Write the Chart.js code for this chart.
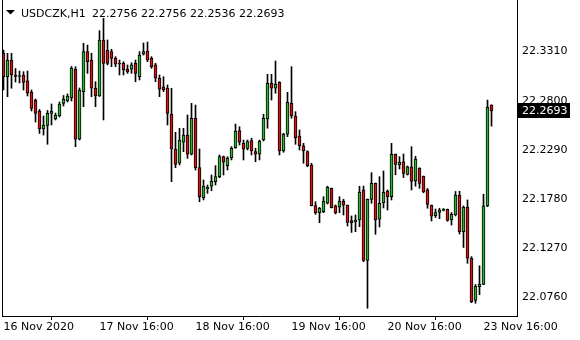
<!DOCTYPE html>
<html><head><meta charset="utf-8">
<script src="https://cdn.jsdelivr.net/npm/chart.js@4.4.1/dist/chart.umd.min.js"></script>
<style>html,body{margin:0;padding:0;background:#fff;}#c{display:block;}</style>
</head><body>
<canvas id="c" width="580" height="340"></canvas>
<script>
const symbol = 'USDCZK,H1';
const open = [22.3292,22.3049,22.3222,22.3067,22.3051,22.3067,22.3005,22.2890,22.2807,22.2693,
22.2506,22.2543,22.2669,22.2610,22.2641,22.2773,22.2797,22.2828,22.3126,22.2400,
22.2894,22.3309,22.3222,22.2929,22.2849,22.3430,22.3326,22.3309,22.3240,22.3191,
22.3188,22.3126,22.3126,22.3188,22.3049,22.3282,22.3316,22.3240,22.3171,22.3033,
22.2945,22.2929,22.2662,22.2299,22.2151,22.2369,22.2444,22.2244,22.2618,22.2105,
22.1794,22.1884,22.1913,22.1960,22.2012,22.2219,22.2126,22.2209,22.2312,22.2489,
22.2358,22.2306,22.2385,22.2271,22.2244,22.2392,22.2610,22.2981,22.2929,22.2991,
22.2278,22.2452,22.2773,22.2641,22.2434,22.2333,22.2271,22.2133,22.1711,22.1638,
22.1648,22.1736,22.1891,22.1708,22.1694,22.1759,22.1718,22.1555,22.1545,22.1562,
22.1874,22.1144,22.1775,22.1943,22.1570,22.1742,22.1863,22.1804,22.2244,22.2133,
22.2167,22.2036,22.2115,22.1967,22.2099,22.2016,22.1874,22.1718,22.1607,22.1640,
22.1661,22.1673,22.1562,22.1614,22.1822,22.1441,22.1697,22.1165,22.0727,22.0870,
22.0893,22.1708,22.2756];
const high = [22.3326,22.3292,22.3292,22.3134,22.3108,22.3101,22.3108,22.2911,22.2818,22.2709,
22.2641,22.2699,22.2766,22.2672,22.2787,22.2854,22.2870,22.3155,22.3153,22.2932,
22.3396,22.3378,22.3292,22.2997,22.3527,22.3655,22.3430,22.3334,22.3257,22.3222,
22.3205,22.3171,22.3194,22.3222,22.3309,22.3399,22.3409,22.3257,22.3188,22.3067,
22.3049,22.2963,22.2929,22.2472,22.2514,22.2514,22.2652,22.2773,22.2755,22.2299,
22.1977,22.1925,22.2029,22.2126,22.2237,22.2226,22.2219,22.2323,22.2558,22.2530,
22.2392,22.2392,22.2410,22.2306,22.2392,22.2659,22.3074,22.3074,22.3212,22.2997,
22.2462,22.2887,22.3153,22.2686,22.2496,22.2358,22.2281,22.2151,22.1752,22.1694,
22.1804,22.1913,22.1894,22.1718,22.1804,22.1777,22.1718,22.1604,22.1614,22.1912,
22.1915,22.1780,22.2053,22.1946,22.2012,22.2071,22.1874,22.2358,22.2247,22.2219,
22.2247,22.2123,22.2323,22.2223,22.2105,22.2019,22.1889,22.1718,22.1676,22.1684,
22.1682,22.1676,22.1640,22.1858,22.1860,22.1708,22.1770,22.1182,22.0893,22.1087,
22.1830,22.2807,22.2756];
const low = [22.2911,22.2842,22.2929,22.2994,22.2984,22.2911,22.2849,22.2693,22.2579,22.2460,
22.2444,22.2348,22.2548,22.2600,22.2631,22.2745,22.2787,22.2797,22.2323,22.2392,
22.2738,22.3084,22.2842,22.2738,22.2844,22.2600,22.3171,22.3153,22.3153,22.3067,
22.3067,22.3084,22.3084,22.2997,22.3015,22.3274,22.3205,22.3136,22.2997,22.2842,
22.2894,22.2548,22.1960,22.2105,22.2133,22.2271,22.2202,22.2237,22.2081,22.1752,
22.1770,22.1839,22.1866,22.1925,22.2001,22.2029,22.2081,22.2185,22.2306,22.2340,
22.2185,22.2289,22.2237,22.2167,22.2185,22.2382,22.2514,22.2807,22.2877,22.2237,
22.2265,22.2427,22.2618,22.2348,22.2289,22.2151,22.2115,22.1708,22.1621,22.1534,
22.1638,22.1728,22.1687,22.1625,22.1638,22.1614,22.1500,22.1433,22.1441,22.1493,
22.1130,22.0646,22.1736,22.1414,22.1490,22.1687,22.1666,22.1770,22.2032,22.2091,
22.2003,22.2029,22.1874,22.1913,22.1891,22.1845,22.1684,22.1552,22.1588,22.1576,
22.1656,22.1549,22.1510,22.1604,22.1417,22.1277,22.1113,22.0704,22.0698,22.0787,
22.0891,22.1700,22.2536];
const close = [22.3049,22.3222,22.3067,22.3051,22.3062,22.2989,22.2877,22.2721,22.2669,22.2506,
22.2548,22.2669,22.2693,22.2652,22.2766,22.2818,22.2849,22.3139,22.2400,22.2911,
22.3309,22.3205,22.2929,22.2849,22.3430,22.3188,22.3188,22.3240,22.3178,22.3181,
22.3119,22.3098,22.3171,22.3084,22.3274,22.3309,22.3222,22.3153,22.3033,22.2921,
22.2911,22.2669,22.2299,22.2140,22.2392,22.2444,22.2244,22.2618,22.2105,22.1804,
22.1913,22.1902,22.1967,22.2012,22.2219,22.2161,22.2202,22.2306,22.2486,22.2369,
22.2296,22.2375,22.2278,22.2244,22.2382,22.2618,22.2981,22.2929,22.2970,22.2278,
22.2452,22.2783,22.2645,22.2416,22.2333,22.2278,22.2126,22.1711,22.1638,22.1684,
22.1759,22.1902,22.1690,22.1638,22.1759,22.1715,22.1538,22.1534,22.1562,22.1853,
22.1144,22.1777,22.1943,22.1562,22.1736,22.1850,22.1801,22.2244,22.2140,22.2161,
22.2045,22.2115,22.1962,22.2195,22.1943,22.1853,22.1723,22.1601,22.1638,22.1666,
22.1673,22.1557,22.1621,22.1822,22.1441,22.1697,22.1165,22.0715,22.0874,22.0896,
22.1708,22.2732,22.2693];
const xTickIndex = [0, 24, 48, 72, 96, 120];
const xTickLabels = ['16 Nov 2020', '17 Nov 16:00', '18 Nov 16:00', '19 Nov 16:00', '20 Nov 16:00', '23 Nov 16:00'];
const yTicks = [22.0760, 22.1270, 22.1780, 22.2290, 22.2800, 22.3310];

const BULL = '#2fb32f', BEAR = '#d41414';
const FONT = 'DejaVu Sans';
const idx = open.map((_, i) => i);
const last = open.length - 1;

const decor = {
  id: 'decor',
  afterDraw(chart) {
    const {ctx, chartArea: a, scales: {y}} = chart;
    ctx.save();
    ctx.strokeStyle = '#000'; ctx.lineWidth = 1;
    ctx.beginPath(); ctx.moveTo(2.5, 0); ctx.lineTo(2.5, a.bottom + 1); ctx.stroke();
    ctx.fillStyle = '#000';
    ctx.beginPath(); ctx.moveTo(6, 10); ctx.lineTo(15, 10); ctx.lineTo(10.5, 14.5); ctx.closePath(); ctx.fill();
    ctx.font = '11px "' + FONT + '"'; ctx.textBaseline = 'alphabetic'; ctx.textAlign = 'left';
    ctx.fillText(symbol, 21, 17);
    ctx.fillText([open[last], high[last], low[last], close[last]].map(v => v.toFixed(4)).join(' '), 92, 17);
    const py = Math.round(y.getPixelForValue(close[last]));
    ctx.fillStyle = '#000'; ctx.fillRect(518, py - 8, 52, 15);
    ctx.fillStyle = '#fff'; ctx.textBaseline = 'middle';
    ctx.fillText(close[last].toFixed(4), 522, py);
    ctx.restore();
  }
};

function noPad(s) { s.paddingTop = 0; s.paddingBottom = 0; s.paddingLeft = 0; s.paddingRight = 0; }

new Chart(document.getElementById('c'), {
  type: 'bar',
  data: {
    datasets: [
      { label: 'wick', order: 2, data: idx.map(i => ({x: i, y: [low[i], high[i]]})),
        backgroundColor: '#000', borderWidth: 0, barThickness: 1, grouped: false },
      { label: 'body', order: 1, data: idx.map(i => ({x: i, y: [open[i], close[i]]})),
        backgroundColor: idx.map(i => close[i] >= open[i] ? BULL : BEAR),
        borderColor: '#000', borderWidth: 1, borderSkipped: false, barThickness: 3, minBarLength: 1, grouped: false }
    ]
  },
  options: {
    responsive: false, animation: false, devicePixelRatio: 1,
    layout: { padding: { left: 3, top: 0, right: 0, bottom: 0 } },
    plugins: { legend: { display: false }, tooltip: { enabled: false } },
    scales: {
      x: {
        type: 'linear', min: -0.125, max: 128.375, offset: false,
        afterFit(s) { s.height = 24; noPad(s); },
        afterBuildTicks(s) { s.ticks = xTickIndex.map(v => ({value: v})); },
        grid: { drawOnChartArea: false, drawTicks: true, tickLength: 4, color: '#000' },
        border: { display: true, color: '#000', width: 1 },
        ticks: { autoSkip: false, maxRotation: 0, align: 'start', padding: 1, color: '#000',
          font: { family: FONT, size: 11 },
          callback(v) { const j = xTickIndex.indexOf(v); return j >= 0 ? xTickLabels[j] : ''; } }
      },
      y: {
        type: 'linear', position: 'right', min: 22.0566, max: 22.3845,
        afterFit(s) { s.width = 63; noPad(s); },
        afterBuildTicks(s) { s.ticks = yTicks.map(v => ({value: v})); },
        grid: { drawOnChartArea: false, drawTicks: false },
        border: { display: true, color: '#000', width: 1 },
        ticks: { padding: 5, color: '#000', crossAlign: 'near', font: { family: FONT, size: 11 },
          callback(v) { return Number(v).toFixed(4); } }
      }
    }
  },
  plugins: [decor]
});
</script>
</body></html>
